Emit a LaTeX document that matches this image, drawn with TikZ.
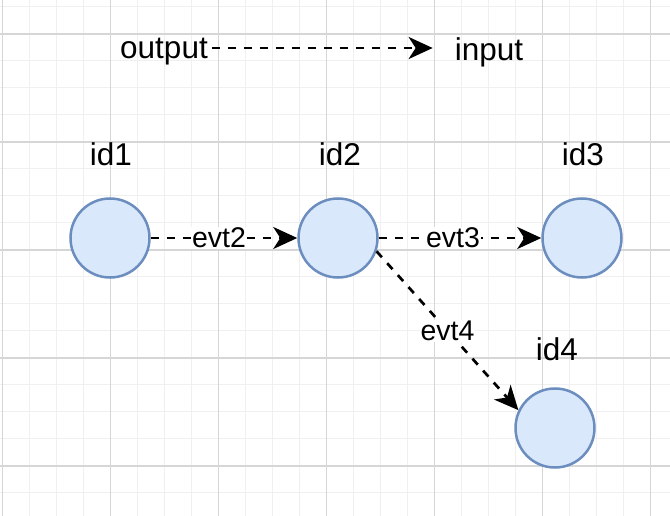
\documentclass[tikz,border=0pt]{standalone}
\usepackage{fontspec}
\setmainfont{Liberation Sans}
\usetikzlibrary{arrows.meta}
\definecolor{nodefill}{HTML}{DAE8FC}
\definecolor{nodedraw}{HTML}{6C8EBF}
\definecolor{minorgrid}{HTML}{F0F0F0}
\definecolor{majorgrid}{HTML}{D6D6D6}
\tikzset{
  statenode/.style={circle, draw=nodedraw, fill=nodefill, line width=2.5pt, minimum size=79pt, inner sep=0pt},
  plaintext/.style={inner sep=2pt, font=\fontsize{31.5}{36}\selectfont},
  edgelabel/.style={fill=white, inner sep=1pt, font=\fontsize{28.5}{32}\selectfont},
  flow/.style={draw=black, line width=2.7pt, dash pattern=on 8pt off 8pt, -{Stealth[length=24pt, width=22pt, inset=7pt]}},
}
\begin{document}
\begin{tikzpicture}[x=1pt, y=-1pt]
\useasboundingbox[fill=white] (0,0) rectangle (670,516);
% grid
\foreach \k in {0,...,24} {
  \draw[minorgrid, line width=1.3pt] ({2.7+27*\k},0) -- ({2.7+27*\k},516);
}
\foreach \k in {0,...,19} {
  \draw[minorgrid, line width=1.3pt] (0,{6.7+27*\k}) -- (670,{6.7+27*\k});
}
\foreach \k in {0,...,6} {
  \draw[majorgrid, line width=1.3pt] ({2.7+108*\k},0) -- ({2.7+108*\k},516);
}
\foreach \k in {0,...,4} {
  \draw[majorgrid, line width=1.3pt] (0,{34+108*\k}) -- (670,{34+108*\k});
}
% legend
\node[plaintext, inner sep=4pt] (out) at (164,52) {output};
\node[plaintext] (in) at (489,52) {input};
\draw[flow, shorten >=20pt] (out.east |- 0,48) -- (in.west |- 0,48);
% states
\node[statenode] (n1) at (110,238) {};
\node[statenode] (n2) at (338,238) {};
\node[statenode] (n3) at (582,238) {};
\node[statenode] (n4) at (555,428) {};
\node[plaintext] (l1) at (111,154) {id1};
\node[plaintext] (l2) at (340,154) {id2};
\node[plaintext] (l3) at (583,154) {id3};
\node[plaintext] (l4) at (557,349) {id4};
% transitions
\draw[flow] (n1.east) -- node[edgelabel, xshift=-5pt] {evt2} (n2.west);
\draw[flow] (n2.east) -- node[edgelabel, xshift=-7pt] {evt3} (n3.west);
\draw[flow] (n2.-19) -- node[edgelabel] {evt4} (n4.154);
\end{tikzpicture}
\end{document}
